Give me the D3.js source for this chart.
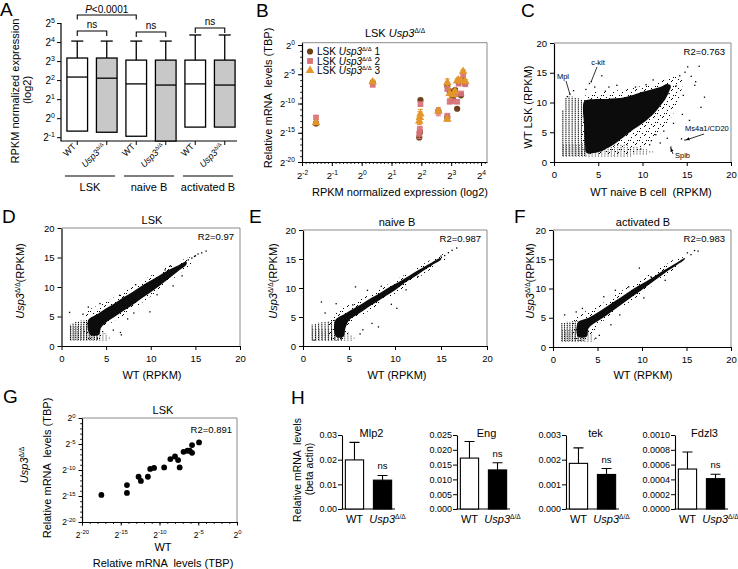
<!DOCTYPE html>
<html><head><meta charset="utf-8">
<script src="https://cdn.jsdelivr.net/npm/d3@7/dist/d3.min.js"></script>
<style>html,body{margin:0;padding:0;background:#fff}svg{display:block}text{white-space:pre}</style>
</head><body>
<script>
// ================= DATA =================
// Panel A : box plots of RPKM (log2 exponent)
const aGroups = ["LSK", "naive B", "activated B"];
const aGenotypes = ["WT", "Usp3", "WT", "Usp3", "WT", "Usp3"];
const aQ1 = [-0.68, -0.74, -0.95, -1.3, -0.47, -0.47];
const aMedian = [2.16, 2.1, 1.8, 1.74, 1.8, 1.74];
const aQ3 = [3.16, 3.16, 3.05, 3.05, 3.05, 3.05];
const aMax = [4.05, 4.05, 4.05, 4.05, 4.37, 4.37];
const aTicks = [-1, 0, 1, 2, 3, 4, 5];
const aSigFrom = [0, 0, 2, 4];
const aSigTo = [2, 1, 3, 5];
const aSigText = ["P<0.0001", "ns", "ns", "ns"];
const aSigLevel = [5.42, 4.58, 4.53, 4.74];

// Panel B : log2 RPKM vs log2 relative mRNA (3 replicates)
const bSeries = ["1", "2", "3"];
const bGeneX = [-1.53, 0.37, 1.97, 1.93, 1.95, 2.57, 2.87, 2.87, 2.95, 3.05, 3.13, 3.2, 3.25, 3.33, 3.4, 3.47];
const bRep1 = [-13.4, -6.4, -9.4, -15.8, -14.9, -11.3, -7.0, -12.4, -7.9, -9.1, -7.7, -10.9, -6.4, -8.6, -5.9, -6.6];
const bRep2 = [-12.4, -6.8, -10.1, -15.2, -14.4, -11.4, -7.5, -12.1, -9.7, -9.6, -8.4, -9.7, -6.6, -8.3, -5.2, -6.7];
const bRep3 = [-13.3, -6.3, -11.8, -13.0, -12.4, -11.3, -6.4, -12.7, -8.3, -8.5, -7.9, -6.1, -6.0, -6.1, -4.5, -6.2];
const bErr1 = [0.3, 0.2, 0.2, 0.3, 0.3, 0.2, 0.3, 0.2, 0.3, 0.2, 0.2, 0.2, 0.2, 0.2, 0.2, 0.2];
const bErr2 = [0.3, 0.3, 0.3, 0.8, 0.5, 0.7, 0.3, 0.3, 0.3, 0.3, 0.3, 0.3, 0.3, 0.3, 0.3, 0.3];
const bErr3 = [0.2, 0.3, 0.8, 0.6, 1.0, 0.3, 0.6, 0.3, 0.8, 0.3, 0.3, 0.3, 0.3, 0.3, 0.3, 0.3];
const bXTicks = [-2, -1, 0, 1, 2, 3, 4];
const bYTicks = [-20, -15, -10, -5, 0];

// Panel C : WT naive B (x) vs WT LSK (y), RPKM
const linTicks = [0, 5, 10, 15, 20];
const cDense = [[3.4,10.2],[4,10.5],[5,10.6],[6,10.6],[7,10.7],[8,10.9],[9,11.3],[10,11.8],[11,12.2],[12,12.6],[12.8,13.1],[13.2,12.8],[13.0,11.8],[12.6,10.6],[12,9.4],[11.4,8.3],[10.6,7.2],[9.9,6.4],[9.0,5.5],[8.2,4.6],[7.5,3.8],[6.8,3.0],[6.0,2.3],[5.4,1.8],[4.5,1.5],[3.7,1.5],[3.5,3.0],[3.4,6.0]];
const cHalo = [[3.6,11.4],[4,11.9],[6,11.9],[8,12.2],[10,12.8],[12,13.6],[13.5,14.4],[14.5,14.0],[14.2,11.0],[13.6,8.5],[12.6,6.0],[11.5,4.0],[10,2.5],[8.5,1.3],[5,1.2],[3.6,1.2]];
const cVStripes = [[1.0,1.0,8.7],[1.35,1.0,10.8],[1.7,1.0,11.0],[2.05,1.0,11.0],[2.4,1.0,10.8],[2.75,1.0,10.7],[3.1,1.0,10.5],[3.45,1.0,10.4]];
const cHStripes = [[1.0,1.0,8.8],[1.35,1.0,10.5],[1.7,1.0,11.2],[2.05,1.0,10.5],[2.4,1.0,9.5],[2.8,1.0,8.5]];
const cOutliers = [[4.2,13.5],[4.0,13.2],[5.4,14.5],[4.6,12.6],[3.6,12.2],[6.2,12.6],[7.1,12.9],[5.8,11.9],[15.1,16.0],[16.4,16.1],[14.8,15.1],[14.2,14.5],[15.9,12.9],[17.0,10.9],[16.6,9.2],[14.8,3.7],[14.4,3.9],[13.2,2.5],[12.8,4.0],[12.0,3.2],[11.5,4.6],[13.5,6.5],[14.5,8.0],[15.3,7.0],[9.8,2.2],[10.8,2.9],[1.8,11.4],[1.5,11.0],[2.2,12.0],[13.0,11.5],[15.5,14.4],[16.0,13.5],[11.2,13.8],[10.4,13.0],[9.2,12.6],[13.8,12.8],[14.6,11.2],[12.4,5.2],[11.0,3.6]];

// Panel D : LSK WT vs Usp3
const dDense = [[3.0,4.4],[4,5.4],[5,6.4],[6,7.3],[7,8.3],[8,9.2],[9,10.2],[10,11.1],[11,12.0],[12,12.9],[13,13.6],[14,14.3],[14,13.8],[13,12.6],[12,11.4],[11,10.2],[10,9.1],[9,8.1],[8,7.0],[7,6.0],[6,5.0],[5,4.0],[4.4,3.0],[4.2,1.9],[3.2,1.9]];
const dHalo = [[2.6,5.0],[3,6.0],[5,7.5],[7,9.3],[9,11.0],[11,12.8],[13,14.2],[14.5,15.0],[14.5,14.0],[13,12.0],[11,9.6],[9,7.3],[7,5.2],[5,3.2],[4.6,1.4],[2.6,1.4]];
const dVStripes = [[1.0,1.0,3.6],[1.3,1.0,3.9],[1.6,1.0,4.1],[1.9,1.0,4.2],[2.2,1.0,4.3],[2.5,1.0,4.3],[2.8,1.0,4.4],[3.1,1.0,4.5],[3.4,1.0,4.5],[3.7,1.0,4.6],[4.0,1.0,4.6]];
const dHStripes = [[1.0,1.0,5.2],[1.35,1.0,5.4],[1.7,1.0,5.2],[2.05,1.0,5.0],[2.4,1.0,4.8],[2.8,1.0,4.6],[3.2,1.0,4.5]];
const dOutliers = [[0.9,5.7],[3.0,6.6],[2.4,5.4],[5.8,2.7],[6.7,1.9],[6.6,2.3],[8.1,5.6],[9.9,5.8],[7.4,4.6],[12.5,10.2],[11.6,12.9],[14.6,14.9],[14.9,15.2],[15.3,15.6],[15.7,15.8],[16.2,16.1],[14.2,14.6],[13.5,11.9],[8.3,10.4],[6.5,8.6],[4.3,7.2],[10.7,8.7],[12.2,13.6],[15.0,15.3]];

// Panel E : naive B WT vs Usp3
const eDense = [[3.5,4.4],[4.5,5.5],[5,6.0],[6,6.9],[7,7.9],[8,8.8],[9,9.8],[10,10.7],[11,11.6],[12,12.6],[13,13.5],[14,14.4],[15,15.2],[15,14.9],[14,13.9],[13,12.9],[12,11.8],[11,10.8],[10,9.6],[9,8.6],[8,7.6],[7,6.6],[6,5.5],[5,4.4],[4.6,3.0],[4.4,1.6],[3.6,1.6]];
const eHalo = [[3.0,5.0],[4,6.3],[6,7.8],[8,9.6],[10,11.3],[12,13.2],[14,14.9],[15.5,15.9],[15.5,15.0],[14,13.4],[12,11.1],[10,9.0],[8,6.9],[6,4.8],[5,3.0],[4.8,1.3],[3.0,1.3]];
const eVStripes = [[1.0,1.0,3.7],[1.35,1.0,3.9],[1.7,1.0,4.0],[2.05,1.0,4.1],[2.4,1.0,4.2],[2.75,1.0,4.3],[3.1,1.0,4.4],[3.45,1.0,4.5],[3.8,1.0,4.6],[4.15,1.0,4.7]];
const eHStripes = [[1.0,1.0,5.5],[1.35,1.0,5.6],[1.7,1.0,5.3],[2.05,1.0,5.0],[2.4,1.0,4.8],[2.8,1.0,4.6]];
const eOutliers = [[2.0,7.6],[2.4,5.7],[5.7,10.2],[5.4,7.1],[7.5,3.9],[6.2,2.1],[6.5,2.8],[10.9,11.1],[8.2,3.3],[10.2,6.5],[9.6,7.2],[15.4,15.6],[15.8,16.1],[16.2,16.5],[16.7,16.9],[15.0,15.5],[11.2,9.7],[12.5,12.0],[8.5,10.3],[3.6,7.3],[1.2,1.0],[7.0,9.6]];

// Panel F : activated B WT vs Usp3
const fDense = [[2.8,4.2],[4,5.0],[5,5.9],[6,6.9],[7,7.9],[8,8.9],[9,9.9],[10,10.8],[11,11.7],[12,12.7],[13,13.6],[14,14.5],[14.8,15.2],[14.8,15.0],[14,14.1],[13,13.1],[12,12.0],[11,10.9],[10,9.8],[9,8.7],[8,7.6],[7,6.5],[6,5.4],[5,4.4],[4,3.2],[3.8,1.8],[2.8,1.8]];
const fHalo = [[2.4,4.8],[3,5.6],[5,7.0],[7,8.9],[9,10.8],[11,12.6],[13,14.4],[14.5,15.6],[14.5,14.5],[13,12.6],[11,10.3],[9,8.1],[7,5.9],[5,3.6],[4.2,1.4],[2.4,1.4]];
const fVStripes = [[1.0,1.0,4.1],[1.3,1.0,4.2],[1.6,1.0,4.3],[1.9,1.0,4.3],[2.2,1.0,4.4],[2.5,1.0,4.4],[2.8,1.0,4.4],[3.1,1.0,4.5],[3.4,1.0,4.5]];
const fHStripes = [[1.0,1.0,4.6],[1.35,1.0,4.8],[1.7,1.0,4.6],[2.05,1.0,4.4],[2.4,1.0,4.2],[2.8,1.0,4.0]];
const fOutliers = [[1.3,5.5],[2.6,6.0],[5.7,8.6],[4.4,5.2],[7.0,9.7],[8.5,10.3],[11.0,12.0],[8.5,8.4],[15.1,16.1],[15.9,16.5],[9.7,13.5],[4.8,1.5],[5.2,2.0],[6.5,3.8],[10.2,8.4],[12.6,11.4],[15.5,15.8],[16.3,16.4],[3.3,6.6],[7.5,5.5]];

// Panel G : LSK qPCR WT vs Usp3 (log2)
const gWT = [-17.5, -14.2, -14.2, -12.7, -12.4, -11.5, -11.2, -10.7, -9.4, -8.6, -8.0, -7.6, -7.4, -6.9, -6.4, -6.1, -5.8, -5.8, -4.9];
const gKO = [-14.8, -12.9, -14.4, -11.3, -12.1, -11.3, -9.8, -9.6, -9.5, -7.9, -7.4, -8.1, -9.5, -6.5, -6.3, -6.3, -6.7, -5.2, -4.7];
const gTicks = [-20, -15, -10, -5, 0];

// Panel H : qPCR bars
const hGenes = ["Mlp2", "Eng", "tek", "Fdzl3"];
const hWT = [0.0199, 0.0172, 0.00185, 0.00054];
const hWTerr = [0.0071, 0.0056, 0.00063, 0.00023];
const hKO = [0.0117, 0.0132, 0.00140, 0.00041];
const hKOerr = [0.0019, 0.0024, 0.00024, 0.00006];
const hMax = [0.03, 0.025, 0.003, 0.001];
const hTicks = [[0, 0.01, 0.02, 0.03], [0, 0.005, 0.01, 0.015, 0.02, 0.025], [0, 0.001, 0.002, 0.003], [0, 0.0002, 0.0004, 0.0006, 0.0008, 0.001]];
const hFormats = [".2f", ".3f", ".3f", ".4f"];

// ================= DRAWING =================
const FONT = "'Liberation Sans', Arial, Helvetica, sans-serif";
const svg = d3.select("body").append("svg").attr("width", 738).attr("height", 569)
  .style("font-family", FONT);
svg.append("rect").attr("width", 738).attr("height", 569).attr("fill", "#fff");
const defs = svg.append("defs");
const pat = defs.append("pattern").attr("id", "dots").attr("width", 9).attr("height", 9)
  .attr("patternUnits", "userSpaceOnUse");
[[1, 2], [5, 0], [7, 5], [3, 7], [0, 5], [6, 8]].forEach(p =>
  pat.append("rect").attr("x", p[0]).attr("y", p[1]).attr("width", 1).attr("height", 1).attr("fill", "#000"));
defs.append("marker").attr("id", "arr").attr("viewBox", "0 0 10 10").attr("refX", 9).attr("refY", 5)
  .attr("markerWidth", 5).attr("markerHeight", 5).attr("orient", "auto")
  .append("path").attr("d", "M0,1 L10,5 L0,9 z").attr("fill", "#000");

function txt(x, y, s, fs, anchor) {
  return svg.append("text").attr("x", x).attr("y", y).attr("font-size", fs)
    .attr("text-anchor", anchor || "start").attr("fill", "#000").text(s);
}
function addUsp(t, fs, after) {
  t.append("tspan").attr("font-style", "italic").text("Usp3");
  t.append("tspan").attr("font-size", fs * 0.6).attr("dy", -fs * 0.38).text("Δ/Δ");
  if (after) t.append("tspan").attr("dy", fs * 0.38).text(after);
}
function styleAxis(sel, fs) {
  sel.selectAll("path.domain").attr("stroke", "#000").attr("stroke-width", 1.2);
  sel.selectAll(".tick line").attr("stroke", "#000").attr("stroke-width", 1);
  sel.selectAll(".tick text").attr("font-size", fs).attr("font-family", FONT).attr("fill", "#000");
}
function powLabels(sel, fs) {
  sel.selectAll(".tick text").each(function (d) {
    const t = d3.select(this); t.text("");
    t.append("tspan").text("2");
    t.append("tspan").attr("dy", -fs * 0.42).attr("font-size", fs * 0.7).text(d);
  });
}
function minor(g, axisFn, scale, vals, size) {
  const a = g.call(axisFn(scale).tickValues(vals).tickSize(size).tickFormat("").tickSizeOuter(0));
  a.selectAll("path.domain").remove();
  a.selectAll(".tick line").attr("stroke", "#000").attr("stroke-width", 0.8);
}
function frame(x0, x1, y0, y1) {
  svg.append("line").attr("x1", x0).attr("x2", x1).attr("y1", y0).attr("y2", y0).attr("stroke", "#8a8a8a").attr("stroke-width", 1);
  svg.append("line").attr("x1", x1).attr("x2", x1).attr("y1", y0).attr("y2", y1).attr("stroke", "#8a8a8a").attr("stroke-width", 1);
}
function rotText(x, y, fs) {
  return svg.append("text").attr("transform", `translate(${x},${y}) rotate(-90)`)
    .attr("font-size", fs).attr("text-anchor", "middle").attr("fill", "#000");
}

// ---- Panel letters
[["A", 0, 16], ["B", 256, 17], ["C", 521, 17], ["D", 2, 223], ["E", 249, 223], ["F", 514, 223], ["G", 3, 403], ["H", 291, 404]]
  .forEach(p => txt(p[1], p[2], p[0], 19));

// ================= Panel A =================
{
  const x = d3.scaleBand().domain(d3.range(6)).range([62.5, 239.5]).paddingInner(0.3).paddingOuter(0.15);
  const y = d3.scaleLinear().domain([-1.2, 5]).range([141, 23]);
  const yc = y.copy().clamp(true);
  const g = svg.append("g");
  const ay = g.append("g").attr("transform", "translate(61,0)")
    .call(d3.axisLeft(y).tickValues(aTicks).tickSize(4).tickSizeOuter(0).tickPadding(2));
  styleAxis(ay, 10); powLabels(ay, 10);
  ay.select("path.domain").attr("d", `M0,${y(5)}V141`);
  g.append("line").attr("x1", 60.4).attr("x2", 237).attr("y1", 141).attr("y2", 141).attr("stroke", "#000").attr("stroke-width", 1.2);
  const c = i => x(i) + x.bandwidth() / 2;
  g.selectAll("line.xt").data(d3.range(6)).join("line").attr("x1", c).attr("x2", c).attr("y1", 141).attr("y2", 145).attr("stroke", "#000");
  g.selectAll("line.wh").data(d3.range(6)).join("line").attr("x1", c).attr("x2", c)
    .attr("y1", i => y(aQ3[i])).attr("y2", i => y(aMax[i])).attr("stroke", "#000").attr("stroke-width", 1.3);
  g.selectAll("line.cap").data(d3.range(6)).join("line").attr("x1", i => c(i) - 6).attr("x2", i => c(i) + 6)
    .attr("y1", i => y(aMax[i])).attr("y2", i => y(aMax[i])).attr("stroke", "#000").attr("stroke-width", 1.3);
  g.selectAll("rect.box").data(d3.range(6)).join("rect").attr("x", i => x(i)).attr("width", x.bandwidth())
    .attr("y", i => y(aQ3[i])).attr("height", i => yc(aQ1[i]) - y(aQ3[i]))
    .attr("fill", (d, i) => i % 2 ? "#c8c8c8" : "#fff").attr("stroke", "#000").attr("stroke-width", 1.3);
  g.selectAll("line.med").data(d3.range(6)).join("line").attr("x1", i => x(i)).attr("x2", i => x(i) + x.bandwidth())
    .attr("y1", i => y(aMedian[i])).attr("y2", i => y(aMedian[i])).attr("stroke", "#000").attr("stroke-width", 1.3);
  aSigText.forEach((s, k) => {
    const x1 = c(aSigFrom[k]), x2 = c(aSigTo[k]), yy = y(aSigLevel[k]);
    const drop = k === 0 ? 4.5 : 5;
    g.append("path").attr("d", `M${x1},${yy + drop}V${yy}H${x2}V${yy + drop}`).attr("fill", "none").attr("stroke", "#000").attr("stroke-width", 1.1);
    const t = g.append("text").attr("x", (x1 + x2) / 2).attr("y", yy - 2.5).attr("text-anchor", "middle").attr("font-size", 10);
    if (k === 0) { t.append("tspan").attr("font-style", "italic").text("P"); t.append("tspan").text("<0.0001"); }
    else t.text(s);
  });
  aGenotypes.forEach((s, i) => {
    const t = g.append("text").attr("transform", `translate(${c(i) - 0.5},147) rotate(-45)`).attr("font-size", 9).attr("text-anchor", "end");
    if (s === "WT") t.text("WT"); else addUsp(t, 9);
  });
  aGroups.forEach((s, k) => {
    const xa = x(2 * k) - 2, xb = x(2 * k + 1) + x.bandwidth() - 2;
    g.append("line").attr("x1", xa).attr("x2", xb).attr("y1", 176).attr("y2", 176).attr("stroke", "#000").attr("stroke-width", 1.2);
    g.append("text").attr("x", (xa + xb) / 2).attr("y", 191).attr("text-anchor", "middle").attr("font-size", 11).text(s);
  });
  rotText(19, 91, 11).text("RPKM normalized expression");
  rotText(31, 90, 11).text("(log2)");
}

// ================= Panel B =================
{
  const x = d3.scaleLinear().domain([-2, 4.2]).range([302, 487]);
  const y = d3.scaleLinear().domain([-20, 0.4]).range([162, 42.7]);
  frame(302, 487, 42.7, 162);
  const g = svg.append("g");
  minor(g.append("g").attr("transform", "translate(0,162)"), d3.axisBottom, x, d3.range(-2, 4.2, 0.125), 2);
  minor(g.append("g").attr("transform", "translate(302,0)"), d3.axisLeft, y, d3.range(-20, 0.5, 1), 2);
  const ax = g.append("g").attr("transform", "translate(0,162)")
    .call(d3.axisBottom(x).tickValues(bXTicks).tickSize(4).tickSizeOuter(0).tickPadding(6));
  styleAxis(ax, 9.5); powLabels(ax, 9.5);
  const ay = g.append("g").attr("transform", "translate(302,0)")
    .call(d3.axisLeft(y).tickValues(bYTicks).tickSize(4).tickSizeOuter(0).tickPadding(3));
  styleAxis(ay, 9.5); powLabels(ay, 9.5);
  const colors = ["#6e4019", "#d9737a", "#e3962a"];
  const reps = [bRep1, bRep2, bRep3], errs = [bErr1, bErr2, bErr3];
  reps.forEach((rep, s) => {
    const gs = g.append("g");
    const pts = bGeneX.map((xx, i) => ({ x: xx, y: rep[i], e: errs[s][i] }));
    gs.selectAll("path.err").data(pts).join("path")
      .attr("d", d => `M${x(d.x) - 2.5},${y(d.y - d.e)}H${x(d.x) + 2.5}M${x(d.x)},${y(d.y - d.e)}V${y(d.y + d.e)}M${x(d.x) - 2.5},${y(d.y + d.e)}H${x(d.x) + 2.5}`)
      .attr("stroke", colors[s]).attr("stroke-width", 1).attr("fill", "none");
    const sym = [d3.symbolCircle, d3.symbolSquare, d3.symbolTriangle][s];
    const size = [30, 34, 32][s];
    gs.selectAll("path.pt").data(pts).join("path")
      .attr("transform", d => `translate(${x(d.x)},${y(d.y)})`)
      .attr("d", d3.symbol().type(sym).size(size)).attr("fill", colors[s]).attr("opacity", s === 1 ? 0.9 : 1);
    const ly = [51.5, 61, 70.5][s];
    g.append("path").attr("transform", `translate(310,${ly})`).attr("d", d3.symbol().type(sym).size(size)).attr("fill", colors[s]);
    const t = g.append("text").attr("x", 317).attr("y", ly + 3.5).attr("font-size", 10);
    t.append("tspan").text("LSK ");
    addUsp(t, 10, " " + bSeries[s]);
  });
  const tt = txt(395, 37, "", 11, "middle");
  tt.append("tspan").text("LSK ");
  addUsp(tt, 11);
  txt(400, 196, "RPKM normalized expression (log2)", 11, "middle");
  rotText(272, 98, 11).text("Relative mRNA  levels (TBP)");
}

// ---- generic RPKM scatter panel
function cloudPanel(o) {
  const x = d3.scaleLinear().domain([0, 20]).range([o.x0, o.x1]);
  const y = d3.scaleLinear().domain([0, 20]).range([o.y1, o.y0]);
  const g = svg.append("g");
  const clipId = "clip" + o.id;
  defs.append("clipPath").attr("id", clipId).append("rect").attr("x", o.x0).attr("y", o.y0).attr("width", o.x1 - o.x0).attr("height", o.y1 - o.y0);
  const cg = g.append("g").attr("clip-path", `url(#${clipId})`);
  const ln = d3.line().x(d => x(d[0])).y(d => y(d[1])).curve(d3.curveCatmullRomClosed.alpha(0.5));
  cg.append("path").attr("d", ln(o.halo)).attr("fill", "url(#dots)");
  cg.selectAll("line.vs").data(o.vs).join("line").attr("x1", d => x(d[0])).attr("x2", d => x(d[0]))
    .attr("y1", d => y(d[1])).attr("y2", d => y(d[2])).attr("stroke", "#000").attr("stroke-width", 1).attr("stroke-dasharray", "1.4 0.7");
  cg.selectAll("line.hs").data(o.hs).join("line").attr("y1", d => y(d[0])).attr("y2", d => y(d[0]))
    .attr("x1", d => x(d[1])).attr("x2", d => x(d[2])).attr("stroke", "#000").attr("stroke-width", 0.8).attr("stroke-dasharray", "1 2.2");
  cg.append("path").attr("d", ln(o.dense)).attr("fill", "#0c0c0c");
  cg.selectAll("rect.o").data(o.out).join("rect").attr("x", d => x(d[0]) - 0.6).attr("y", d => y(d[1]) - 0.6)
    .attr("width", 1.3).attr("height", 1.3).attr("fill", "#000");
  frame(o.x0, o.x1, o.y0, o.y1);
  const ax = g.append("g").attr("transform", `translate(0,${o.y1})`)
    .call(d3.axisBottom(x).tickValues(linTicks).tickSize(4).tickSizeOuter(0).tickPadding(5));
  styleAxis(ax, 9.5);
  const ay = g.append("g").attr("transform", `translate(${o.x0},0)`)
    .call(d3.axisLeft(y).tickValues(linTicks).tickSize(4).tickSizeOuter(0).tickPadding(3));
  styleAxis(ay, 9.5);
  txt(o.x1 - 6, o.y0 + 12, o.r2, 9.5, "end");
  return { x, y, g };
}

// ================= Panel C =================
{
  const p = cloudPanel({ id: "C", x0: 554, x1: 731, y0: 43, y1: 162, halo: cHalo, dense: cDense, vs: cVStripes, hs: cHStripes, out: cOutliers, r2: "R2=0.763" });
  const { x, y } = p;
  txt(563, 79, "Mpl", 7.5, "middle");
  svg.append("line").attr("x1", 566).attr("y1", 81).attr("x2", x(1.8)).attr("y2", y(11.4)).attr("stroke", "#000").attr("stroke-width", 0.8);
  txt(598, 65, "c-kit", 7.5, "middle");
  svg.append("line").attr("x1", 597).attr("y1", 67).attr("x2", x(4.2)).attr("y2", y(13.5)).attr("stroke", "#000").attr("stroke-width", 0.8);
  txt(685, 131, "Ms4a1/CD20", 7.5, "start");
  svg.append("line").attr("x1", 704).attr("y1", 134).attr("x2", x(14.8) + 1).attr("y2", y(3.7)).attr("stroke", "#000").attr("stroke-width", 0.8).attr("marker-end", "url(#arr)");
  txt(675, 158, "Spib", 7.5, "start");
  svg.append("line").attr("x1", 673).attr("y1", 154).attr("x2", x(13.2)).attr("y2", y(2.5) + 1).attr("stroke", "#000").attr("stroke-width", 0.8).attr("marker-end", "url(#arr)");
  txt(651, 196, "WT naive B cell  (RPKM)", 11, "middle");
  rotText(532, 107, 11).text("WT LSK (RPKM)");
}

// ================= Panels D, E, F =================
cloudPanel({ id: "D", x0: 61.5, x1: 240, y0: 228, y1: 346, halo: dHalo, dense: dDense, vs: dVStripes, hs: dHStripes, out: dOutliers, r2: "R2=0.97" });
txt(152, 224, "LSK", 11, "middle");
txt(152, 379, "WT (RPKM)", 11, "middle");
addUsp(rotText(24, 281, 11), 11, "(RPKM)");

cloudPanel({ id: "E", x0: 303, x1: 487, y0: 230, y1: 346, halo: eHalo, dense: eDense, vs: eVStripes, hs: eHStripes, out: eOutliers, r2: "R2=0.987" });
txt(397, 226, "naive B", 11, "middle");
txt(397, 379, "WT (RPKM)", 11, "middle");
addUsp(rotText(277, 281, 11), 11, "(RPKM)");

cloudPanel({ id: "F", x0: 553, x1: 731, y0: 230, y1: 347, halo: fHalo, dense: fDense, vs: fVStripes, hs: fHStripes, out: fOutliers, r2: "R2=0.983" });
txt(643, 226, "activated B", 11, "middle");
txt(643, 379, "WT (RPKM)", 11, "middle");
addUsp(rotText(534, 281, 11), 11, "(RPKM)");

// ================= Panel G =================
{
  const x = d3.scaleLinear().domain([-20, 0]).range([82, 237]);
  const y = d3.scaleLinear().domain([-20, 0]).range([522, 418]);
  frame(82, 237, 418, 522);
  const g = svg.append("g");
  minor(g.append("g").attr("transform", "translate(0,522)"), d3.axisBottom, x, d3.range(-20, 0.5, 1), 2);
  minor(g.append("g").attr("transform", "translate(82,0)"), d3.axisLeft, y, d3.range(-20, 0.5, 1), 2);
  const ax = g.append("g").attr("transform", "translate(0,522)")
    .call(d3.axisBottom(x).tickValues(gTicks).tickSize(3.5).tickSizeOuter(0).tickPadding(6));
  styleAxis(ax, 8.5); powLabels(ax, 8.5);
  const ay = g.append("g").attr("transform", "translate(82,0)")
    .call(d3.axisLeft(y).tickValues(gTicks).tickSize(3.5).tickSizeOuter(0).tickPadding(3));
  styleAxis(ay, 8.5); powLabels(ay, 8.5);
  g.selectAll("circle.pt").data(gWT.map((w, i) => [w, gKO[i]])).join("circle")
    .attr("cx", d => x(d[0])).attr("cy", d => y(d[1])).attr("r", 2.9).attr("fill", "#000");
  txt(163, 414, "LSK", 11, "middle");
  txt(232, 433, "R2=0.891", 9.5, "end");
  txt(163, 551, "WT", 11, "middle");
  txt(163, 567, "Relative mRNA  levels (TBP)", 11, "middle");
  addUsp(rotText(28, 465, 11), 11);
  rotText(51, 468, 11).text("Relative mRNA  levels (TBP)");
}

// ================= Panel H =================
{
  const H_AX = [342, 457, 566, 675], H_TOP = 435, H_BOT = 509, H_LEN = 53;
  hGenes.forEach((name, i) => {
    const g = svg.append("g");
    const y = d3.scaleLinear().domain([0, hMax[i]]).range([H_BOT, H_TOP]);
    const x = d3.scaleBand().domain(["WT", "KO"]).range([H_AX[i], H_AX[i] + H_LEN]).paddingInner(0.35).paddingOuter(0.12);
    const ay = g.append("g").attr("transform", `translate(${H_AX[i]},0)`)
      .call(d3.axisLeft(y).tickValues(hTicks[i]).tickFormat(d3.format(hFormats[i])).tickSize(4).tickSizeOuter(0).tickPadding(1));
    styleAxis(ay, 9);
    ay.selectAll("path.domain").attr("stroke-width", 1.1);
    g.append("line").attr("x1", H_AX[i] - 0.5).attr("x2", H_AX[i] + H_LEN).attr("y1", H_BOT).attr("y2", H_BOT).attr("stroke", "#000").attr("stroke-width", 1.1);
    const bars = [{ k: "WT", v: hWT[i], e: hWTerr[i] }, { k: "KO", v: hKO[i], e: hKOerr[i] }];
    const bw = x.bandwidth();
    g.selectAll("path.eb").data(bars).join("path")
      .attr("d", d => `M${x(d.k) + bw / 2},${y(d.v)}V${y(d.v + d.e)}M${x(d.k) + bw / 2 - 5},${y(d.v + d.e)}H${x(d.k) + bw / 2 + 5}`)
      .attr("stroke", "#000").attr("stroke-width", 1.1).attr("fill", "none");
    g.selectAll("rect.bar").data(bars).join("rect").attr("x", d => x(d.k)).attr("width", bw)
      .attr("y", d => y(d.v)).attr("height", d => H_BOT - y(d.v))
      .attr("fill", d => d.k === "WT" ? "#fff" : "#000").attr("stroke", "#000").attr("stroke-width", 1.1);
    txt(x("KO") + bw / 2, y(hKO[i] + hKOerr[i]) - 6, "ns", 9.5, "middle");
    txt(H_AX[i] + H_LEN / 2 + 3, 437, name, 11, "middle");
    txt(x("WT") + bw / 2, 523, "WT", 11, "middle");
    addUsp(txt(x("KO") + bw / 2 + 5, 523, "", 11, "middle"), 11);
  });
  rotText(301, 470, 10.5).text("Relative mRNA  levels");
  rotText(313, 469, 10.5).text("(beta actin)");
}
</script>
</body></html>
